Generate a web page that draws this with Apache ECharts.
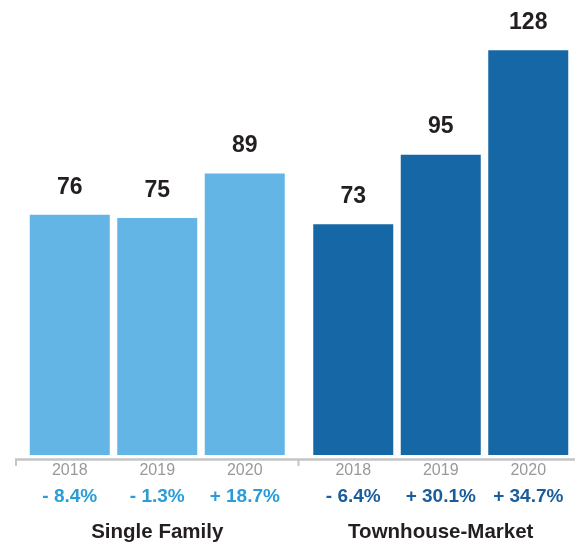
<!DOCTYPE html>
<html>
<head>
<meta charset="utf-8">
<script src="https://cdn.jsdelivr.net/npm/echarts@6/dist/echarts.min.js"></script>
<style>html,body{margin:0;padding:0;background:#fff}#c{width:575px;height:546px}</style>
</head>
<body>
<div id="c"></div>
<script>
const years = ['2018', '2019', '2020'];
const groupNames = ['Single Family', 'Townhouse-Market'];
const singleFamily = [76, 75, 89];
const townhouse = [73, 95, 128];
const singleFamilyChange = ['- 8.4%', '- 1.3%', '+ 18.7%'];
const townhouseChange = ['- 6.4%', '+ 30.1%', '+ 34.7%'];

const FONT = '"Liberation Sans", Arial, Helvetica, sans-serif';
const lightBlue = '#62b5e5';
const darkBlue = '#1667a5';
const lightText = '#2a9dd8';
const darkText = '#1a5d9b';

function xAxisFor(idx, changes, pctColor) {
  return {
    type: 'category', gridIndex: idx, data: years,
    axisLine: { show: false }, axisTick: { show: false },
    axisLabel: {
      margin: 3, interval: 0,
      formatter: (v, i) => '{y|' + v + '}\n{p|' + changes[i] + '}',
      rich: {
        y: { fontSize: 16, color: '#999999', fontFamily: FONT, lineHeight: 26 },
        p: { fontSize: 19, fontWeight: 'bold', color: pctColor, fontFamily: FONT, lineHeight: 26 }
      }
    },
    name: groupNames[idx], nameLocation: 'middle', nameGap: 67,
    nameTextStyle: { fontSize: 20.5, fontWeight: 'bold', color: '#231f20', fontFamily: FONT }
  };
}
function yAxisFor(idx) {
  return { type: 'value', gridIndex: idx, min: 0, max: 130, show: false, splitLine: { show: false } };
}
const labelCfg = { show: true, position: 'top', distance: 16, fontSize: 23, fontWeight: 'bold', color: '#231f20', fontFamily: FONT };

const chart = echarts.init(document.getElementById('c'), null, { renderer: 'canvas' });
chart.setOption({
  animation: false,
  grid: [
    { left: 26, width: 262.5, top: 44, bottom: 91, containLabel: false, outerBoundsMode: 'none' },
    { left: 309.5, width: 262.5, top: 44, bottom: 91, containLabel: false, outerBoundsMode: 'none' }
  ],
  xAxis: [xAxisFor(0, singleFamilyChange, lightText), xAxisFor(1, townhouseChange, darkText)],
  yAxis: [yAxisFor(0), yAxisFor(1)],
  series: [
    { type: 'bar', xAxisIndex: 0, yAxisIndex: 0, data: singleFamily, barWidth: 80, itemStyle: { color: lightBlue }, label: labelCfg },
    { type: 'bar', xAxisIndex: 1, yAxisIndex: 1, data: townhouse, barWidth: 80, itemStyle: { color: darkBlue }, label: labelCfg }
  ],
  graphic: [
    { type: 'line', shape: { x1: 15, y1: 459.5, x2: 575, y2: 459.5 }, style: { stroke: '#c4c4c4', lineWidth: 2.5 } },
    { type: 'line', shape: { x1: 16, y1: 459, x2: 16, y2: 466 }, style: { stroke: '#c4c4c4', lineWidth: 2 } },
    { type: 'line', shape: { x1: 298.5, y1: 459, x2: 298.5, y2: 466 }, style: { stroke: '#c4c4c4', lineWidth: 2 } }
  ]
});
</script>
</body>
</html>
